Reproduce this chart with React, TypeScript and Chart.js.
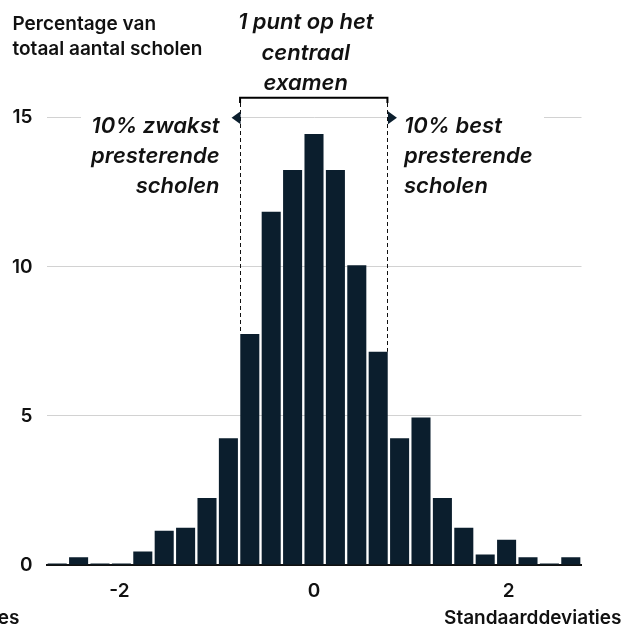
import React, { useEffect, useRef } from 'react';
import { Chart, registerables } from 'chart.js';
Chart.register(...registerables);

// Bin centres (standard deviations) and share of schools (%)
const binCenters = [
  -2.64, -2.42, -2.2, -1.98, -1.76, -1.54, -1.32, -1.1, -0.88, -0.66, -0.44, -0.22,
  0, 0.22, 0.44, 0.66, 0.88, 1.1, 1.32, 1.54, 1.76, 1.98, 2.2, 2.42, 2.64,
];
const schoolPercentages = [
  0.05, 0.26, 0.05, 0.05, 0.45, 1.15, 1.25, 2.25, 4.25, 7.75, 11.85, 13.25,
  14.45, 13.25, 10.05, 7.15, 4.25, 4.95, 2.25, 1.25, 0.35, 0.85, 0.26, 0.05, 0.26,
];
const xTickValues = [-2, 0, 2];
const yTickStep = 5;
const yMax = 15;
const xMin = -2.75;
const xMax = 2.75;
const bracketRange = [-0.76, 0.755];

const yTitleLines = ['Percentage van', 'totaal aantal scholen'];
const xTitle = 'Standaarddeviaties';
const bracketLines = ['1 punt op het', 'centraal', 'examen'];
const leftLines = ['10% zwakst', 'presterende', 'scholen'];
const rightLines = ['10% best', 'presterende', 'scholen'];

const BAR_COLOR = '#0b1e2d';
const TEXT_COLOR = '#111111';
const FONT = 'Inter';
const LABEL_FONT = `600 19px ${FONT}`;
const NOTE_FONT = `italic 600 22px ${FONT}`;

export default function App() {
  const ref = useRef<HTMLCanvasElement>(null);

  useEffect(() => {
    const canvas = ref.current!;

    const barTopAt = (xv: number) => {
      let best = 0;
      let bd = Infinity;
      binCenters.forEach((c, i) => {
        const d = Math.abs(c - xv);
        if (d < bd) { bd = d; best = i; }
      });
      return schoolPercentages[best];
    };

    const annot = {
      id: 'annot',
      beforeDatasetsDraw(chart: any) {
        const ctx = chart.ctx;
        const xs = chart.scales.x;
        const xL = xs.getPixelForValue(bracketRange[0]);
        const xR = xs.getPixelForValue(bracketRange[1]);
        ctx.save();
        ctx.fillStyle = '#ffffff';
        ctx.fillRect(81, 108, xL - 81 - 1, 95);
        ctx.fillRect(xR + 1, 108, 544 - xR - 1, 95);
        ctx.restore();
      },
      afterDraw(chart: any) {
        const ctx = chart.ctx;
        const xs = chart.scales.x;
        const ys = chart.scales.y;
        const xL = xs.getPixelForValue(bracketRange[0]);
        const xR = xs.getPixelForValue(bracketRange[1]);
        const yTop = ys.getPixelForValue(yMax);
        ctx.save();

        // y title
        ctx.fillStyle = TEXT_COLOR;
        ctx.font = LABEL_FONT;
        ctx.textAlign = 'left';
        ctx.textBaseline = 'alphabetic';
        ctx.fillText(yTitleLines[0], 12.5, 29.5);
        ctx.fillText(yTitleLines[1], 12.5, 55);

        // x title (and its clipped copy at the left edge)
        ctx.textAlign = 'right';
        ctx.fillText(xTitle, 621.5, 624);
        ctx.fillText(xTitle, 19.5, 624);

        // bracket text
        ctx.font = NOTE_FONT;
        ctx.textAlign = 'center';
        const cx = (xL + xR) / 2 - 8;
        [28.5, 59.5, 89.5].forEach((b, i) => ctx.fillText(bracketLines[i], cx, b));

        // side texts
        ctx.textAlign = 'right';
        [133.3, 163.3, 193.3].forEach((b, i) => ctx.fillText(leftLines[i], 219.5, b));
        ctx.textAlign = 'left';
        [133.3, 163.3, 193.3].forEach((b, i) => ctx.fillText(rightLines[i], 404, b));

        // bracket
        ctx.strokeStyle = '#000000';
        ctx.lineWidth = 2;
        ctx.beginPath();
        ctx.moveTo(xL, 103);
        ctx.lineTo(xL, 97.7);
        ctx.lineTo(xR, 97.7);
        ctx.lineTo(xR, 103);
        ctx.stroke();

        // dashed lines
        ctx.lineWidth = 1;
        ctx.strokeStyle = '#111111';
        ctx.setLineDash([4, 3]);
        ctx.beginPath();
        ctx.moveTo(Math.round(xL) + 0.5, 103);
        ctx.lineTo(Math.round(xL) + 0.5, ys.getPixelForValue(barTopAt(bracketRange[0])));
        ctx.moveTo(Math.round(xR) + 0.5, 103);
        ctx.lineTo(Math.round(xR) + 0.5, ys.getPixelForValue(barTopAt(bracketRange[1])));
        ctx.stroke();
        ctx.setLineDash([]);

        // arrow heads
        ctx.fillStyle = BAR_COLOR;
        ctx.beginPath();
        ctx.moveTo(xL - 8.5, yTop);
        ctx.lineTo(xL + 0.5, yTop - 6.5);
        ctx.lineTo(xL + 0.5, yTop + 6.5);
        ctx.closePath();
        ctx.fill();
        ctx.beginPath();
        ctx.moveTo(xR + 9.5, yTop);
        ctx.lineTo(xR + 0.5, yTop - 6.5);
        ctx.lineTo(xR + 0.5, yTop + 6.5);
        ctx.closePath();
        ctx.fill();

        ctx.restore();
      },
    };

    const chart = new Chart(canvas, {
      type: 'bar',
      data: {
        datasets: [
          {
            data: binCenters.map((x, i) => ({ x, y: schoolPercentages[i] })),
            backgroundColor: BAR_COLOR,
            borderWidth: 0,
            categoryPercentage: 1,
            barPercentage: 0.89,
          },
        ],
      },
      options: {
        responsive: false,
        animation: false,
        devicePixelRatio: 1,
        layout: { padding: { left: 0, right: 51.5, top: 117.7, bottom: 0 } },
        plugins: { legend: { display: false }, tooltip: { enabled: false } },
        scales: {
          x: {
            type: 'linear',
            min: xMin,
            max: xMax,
            offset: false,
            afterBuildTicks: (scale: any) => {
              scale.ticks = xTickValues.map((v) => ({ value: v }));
            },
            afterFit: (scale: any) => { scale.height = 63; },
            grid: { display: false, drawTicks: false },
            border: { display: true, color: '#111111', width: 2 },
            ticks: {
              color: TEXT_COLOR,
              font: { family: FONT, size: 19, weight: '600' },
              padding: 14.5,
              maxRotation: 0,
              autoSkip: false,
            },
          },
          y: {
            min: 0,
            max: yMax,
            afterFit: (scale: any) => { scale.width = 46.5; },
            grid: { color: '#d2d2d2', lineWidth: 1, drawTicks: false },
            border: { display: false },
            ticks: {
              stepSize: yTickStep,
              color: TEXT_COLOR,
              font: { family: FONT, size: 19, weight: '600' },
              padding: 14,
            },
          },
        },
      },
      plugins: [annot],
    });
    return () => chart.destroy();
  }, []);

  return (
    <div style={{ position: 'fixed', left: 0, top: 0, width: 633, height: 628, background: '#fff' }}>
      <canvas ref={ref} width={633} height={628} style={{ display: 'block' }} />
    </div>
  );
}
